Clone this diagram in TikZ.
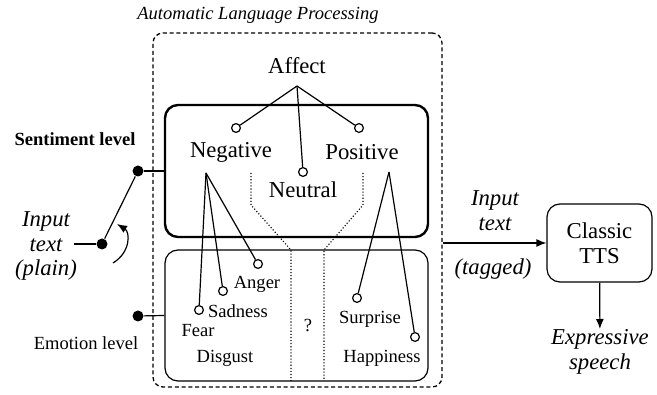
\documentclass[tikz,border=0pt]{standalone}
\usepackage{fontspec}
\setmainfont{Liberation Serif}
\usetikzlibrary{positioning,arrows.meta}

\begin{document}
\begin{tikzpicture}[x=0.5bp,y=-0.5bp,line width=0.6pt,
    every node/.style={font=\fontsize{11.4}{12.5}\selectfont,align=center,inner sep=0pt},
    small/.style={font=\fontsize{9.3}{11}\selectfont},
    hole/.style={circle,draw,fill=white,minimum size=4.4bp},
    dot/.style={circle,fill,minimum size=5.5bp},
    box/.style={draw,rounded corners=6.5bp},
    tip/.style={-{Latex[length=5bp,width=4bp]}}]
  \useasboundingbox (0,0) rectangle (657,395);
  \node[small] (title) at (258,15) {\itshape Automatic Language Processing};
  \node[box,dashed,dash pattern=on 2bp off 1.4bp,line width=0.65pt,rounded corners=5bp,
        minimum width=144.5bp,minimum height=177bp] (alp) at (297.5,210) {};
  \node[box,line width=1.2pt,minimum width=131.5bp,minimum height=66bp] (sent) at (296.5,171) {};
  \node[box,minimum width=131.5bp,minimum height=65.5bp] (emo) at (296.5,315.5) {};

  \node (affect) at (297,66) {Affect};
  \coordinate (aff) at (297,86);
  \node[hole] (negH) at (236,128) {};
  \node[hole] (neuH) at (303,172) {};
  \node[hole] (posH) at (359,128) {};
  \node (neg) at (231,152) {Negative};
  \node (pos) at (362,152) {Positive};
  \node (neu) at (303,190) {Neutral};
  \draw (aff) -- (negH);
  \draw (aff) -- (neuH);
  \draw (aff) -- (posH);

  \coordinate (negJ) at (206,173);
  \coordinate (posJ) at (389,172);
  \node[hole] (fearH) at (199,310) {};
  \node[hole] (sadH) at (223,291) {};
  \node[hole] (angH) at (258,264) {};
  \node[hole] (surH) at (357,298) {};
  \node[hole] (hapH) at (415,337) {};
  \draw (negJ) -- (fearH);
  \draw (negJ) -- (sadH);
  \draw (negJ) -- (angH);
  \draw (posJ) -- (surH);
  \draw (posJ) -- (hapH);
  \node[small] (anger) at (257,284) {Anger};
  \node[small] (sadness) at (238,311) {Sadness};
  \node[small] (fear) at (198,331) {Fear};
  \node[small] (disgust) at (225,358) {Disgust};
  \node[small] (unk) at (308,325) {?};
  \node[small] (surprise) at (370,319) {Surprise};
  \node[small] (happiness) at (382,358) {Happiness};
  \draw[densely dotted,line width=0.55pt] (251,173) -- (251,205) -- (291,250) -- (291,381);
  \draw[densely dotted,line width=0.55pt] (363,173) -- (363,205) -- (324,250) -- (324,381);

  \node[small] (sentlvl) at (75,139) {\bfseries Sentiment level};
  \node[small] (emolvl) at (86,343) {Emotion level};
  \node[dot] (sdot) at (138,171) {};
  \node[dot] (edot) at (138,316) {};
  \node[dot] (idot) at (102,244) {};
  \draw (sdot) -- (sent.west);
  \draw (edot) -- (emo.west);
  \node (input) at (46,246) {\itshape Input\\ \itshape text\\ \itshape (plain)};
  \coordinate (itail) at (74,244);
  \draw (itail) -- (idot);
  \draw (idot) -- (sdot);
  \draw[tip] (113,263) .. controls (131,252) and (130,232) .. (117,224);

  \node[box,minimum width=52.5bp,minimum height=39bp] (tts) at (599.5,243) {Classic\\TTS};
  \draw[tip] (alp.east |- tts) -- (tts);
  \node (intext) at (495,211) {\itshape Input\\ \itshape text};
  \node (tagged) at (493,269) {\itshape (tagged)};
  \node[anchor=north] (speech) at (600,329) {\itshape Expressive\\ \itshape speech};
  \draw[tip] (tts) -- (speech);
\end{tikzpicture}
\end{document}
